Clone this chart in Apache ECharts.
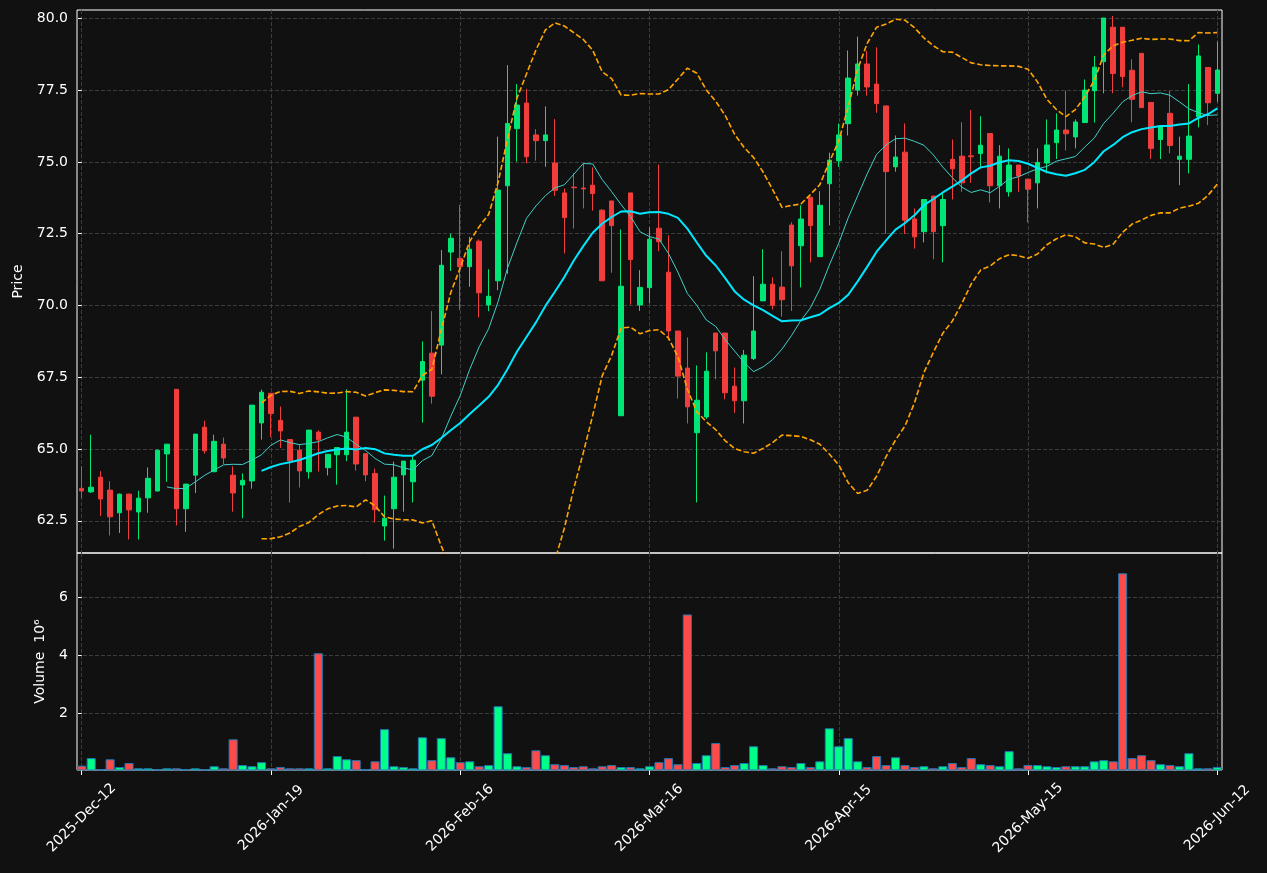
<!DOCTYPE html>
<html>
<head>
<meta charset="utf-8">
<title>Price and volume</title>
<script src="https://cdn.jsdelivr.net/npm/echarts@6/dist/echarts.min.js"></script>
<style>
    html, body { margin: 0; padding: 0; background: #111111; }
    #chart { width: 1267px; height: 873px; }
</style>
</head>
<body>
<div id="chart"></div>
<script>
// x tick labels, one every 20 sessions
const tickLabels = ['2025-Dec-12', '2026-Jan-19', '2026-Feb-16', '2026-Mar-16', '2026-Apr-15', '2026-May-15', '2026-Jun-12'];
const tickEvery = 20;

const opens = [
    63.63, 63.51, 64.02, 63.57, 62.78, 63.43, 62.81, 63.30, 63.54, 64.83,
    67.08, 62.92, 64.09, 65.76, 64.21, 65.17, 64.09, 63.75, 63.89, 65.91,
    66.94, 66.00, 65.33, 64.96, 64.21, 65.59, 64.35, 64.80, 64.80, 66.11,
    64.84, 64.15, 62.32, 62.92, 64.10, 63.86, 67.40, 68.34, 68.62, 71.86,
    71.64, 71.35, 72.24, 70.02, 70.86, 74.17, 76.16, 77.05, 75.94, 75.74,
    74.96, 73.92, 74.12, 74.09, 74.19, 73.32, 73.64, 66.16, 73.92, 70.02,
    70.62, 72.69, 71.16, 69.11, 67.82, 65.57, 66.12, 69.04, 69.04, 67.19,
    66.68, 68.15, 70.16, 70.74, 70.64, 72.80, 72.08, 73.77, 71.70, 74.24,
    75.04, 76.33, 77.50, 78.41, 77.71, 76.95, 74.83, 75.34, 73.01, 72.57,
    73.81, 72.78, 75.09, 75.20, 75.21, 75.29, 75.99, 74.17, 73.96, 74.89,
    74.40, 74.27, 74.96, 75.67, 76.11, 75.87, 76.37, 77.48, 78.49, 79.69,
    79.69, 78.19, 78.78, 77.07, 75.78, 76.69, 75.09, 75.09, 76.57, 78.29,
    77.39
];
const highs = [
    64.40, 65.50, 64.23, 63.88, 63.45, 63.45, 63.55, 64.36, 64.98, 65.17,
    67.08, 63.78, 65.52, 65.99, 65.50, 65.40, 64.40, 64.15, 66.53, 67.07,
    66.96, 66.48, 65.35, 65.17, 65.66, 65.65, 64.82, 65.05, 67.08, 66.11,
    64.84, 64.32, 63.38, 64.56, 64.58, 64.75, 68.75, 69.80, 71.93, 72.50,
    73.50, 72.39, 72.30, 71.26, 75.88, 78.37, 77.71, 77.54, 76.14, 76.93,
    76.49, 74.07, 74.61, 74.95, 74.81, 73.35, 73.64, 72.65, 73.92, 71.23,
    72.72, 74.91, 72.44, 69.11, 68.89, 67.91, 68.37, 69.04, 69.04, 67.84,
    68.45, 71.02, 71.96, 70.98, 71.89, 72.90, 73.49, 73.77, 73.98, 75.32,
    76.34, 78.88, 79.36, 78.87, 78.99, 76.95, 75.92, 76.34, 73.38, 73.69,
    73.81, 73.90, 75.78, 76.38, 76.81, 76.59, 75.99, 75.58, 75.47, 74.89,
    74.40, 75.47, 76.48, 76.69, 77.48, 76.48, 77.87, 78.69, 80.01, 80.08,
    79.69, 78.57, 78.78, 77.07, 76.23, 77.48, 75.88, 77.71, 79.09, 78.29,
    79.19
];
const lows = [
    63.28, 63.47, 62.67, 61.99, 62.08, 61.85, 61.85, 62.78, 63.52, 63.86,
    62.34, 62.12, 63.47, 64.84, 64.21, 64.48, 62.82, 62.59, 63.62, 65.33,
    65.42, 65.04, 63.14, 63.66, 63.97, 64.22, 64.08, 63.76, 64.58, 64.25,
    63.88, 62.44, 61.81, 61.53, 62.82, 63.14, 65.92, 66.58, 67.60, 71.20,
    69.84, 70.65, 69.58, 69.80, 70.53, 71.10, 75.01, 74.95, 75.04, 74.83,
    73.82, 71.81, 72.68, 73.38, 73.30, 70.86, 71.14, 66.16, 70.03, 69.81,
    70.07, 71.89, 68.79, 66.76, 65.89, 63.14, 66.05, 67.43, 66.73, 66.26,
    65.89, 68.10, 70.16, 69.86, 69.61, 69.81, 70.63, 71.50, 71.70, 72.79,
    74.83, 75.92, 77.31, 77.31, 76.71, 72.49, 74.66, 72.49, 71.98, 72.20,
    71.61, 71.50, 73.69, 73.96, 74.27, 74.83, 73.59, 73.38, 73.79, 73.96,
    72.89, 73.38, 74.60, 75.10, 75.40, 75.47, 76.37, 76.37, 77.39, 77.39,
    77.60, 76.38, 76.89, 75.10, 75.10, 75.30, 74.19, 74.60, 76.20, 76.28,
    77.09
];
const closes = [
    63.54, 63.67, 63.26, 62.64, 63.43, 62.88, 63.29, 63.98, 64.96, 65.17,
    62.92, 63.78, 65.52, 64.94, 65.27, 64.69, 63.47, 63.91, 66.53, 66.98,
    66.24, 65.63, 64.59, 64.24, 65.66, 65.32, 64.82, 65.05, 65.59, 64.48,
    64.10, 62.89, 62.59, 64.02, 64.58, 64.61, 68.05, 66.84, 71.40, 72.34,
    71.35, 71.96, 70.44, 70.32, 74.02, 76.34, 76.98, 75.18, 75.74, 75.94,
    74.01, 73.06, 74.10, 74.06, 73.90, 70.86, 72.78, 70.67, 71.60, 70.63,
    72.31, 72.22, 69.11, 67.54, 66.47, 66.70, 67.71, 68.42, 66.96, 66.68,
    68.27, 69.11, 70.74, 70.01, 70.20, 71.38, 73.01, 72.78, 73.49, 75.06,
    75.94, 77.92, 78.41, 77.61, 77.03, 74.66, 75.17, 72.97, 72.39, 73.69,
    72.57, 73.69, 74.76, 74.27, 75.18, 75.58, 74.17, 75.20, 74.89, 74.51,
    74.05, 74.98, 75.59, 76.11, 75.98, 76.39, 77.50, 78.30, 80.01, 78.08,
    77.97, 77.18, 76.89, 75.47, 76.23, 75.57, 75.20, 75.90, 78.69, 77.06,
    78.20
];
// volume in millions
const volumes = [
    0.19, 0.45, 0.07, 0.41, 0.14, 0.28, 0.10, 0.10, 0.07, 0.10,
    0.10, 0.07, 0.10, 0.07, 0.17, 0.10, 1.10, 0.21, 0.17, 0.31,
    0.10, 0.14, 0.10, 0.10, 0.10, 4.07, 0.10, 0.52, 0.41, 0.38,
    0.07, 0.34, 1.45, 0.17, 0.14, 0.10, 1.17, 0.38, 1.14, 0.48,
    0.31, 0.34, 0.17, 0.21, 2.24, 0.62, 0.17, 0.14, 0.72, 0.55,
    0.24, 0.21, 0.14, 0.17, 0.10, 0.17, 0.21, 0.14, 0.14, 0.10,
    0.17, 0.31, 0.45, 0.24, 5.41, 0.28, 0.55, 0.97, 0.14, 0.21,
    0.28, 0.86, 0.21, 0.10, 0.17, 0.14, 0.28, 0.14, 0.34, 1.48,
    0.86, 1.14, 0.34, 0.14, 0.52, 0.21, 0.48, 0.21, 0.14, 0.17,
    0.10, 0.17, 0.28, 0.14, 0.45, 0.24, 0.21, 0.17, 0.69, 0.10,
    0.21, 0.21, 0.17, 0.14, 0.17, 0.17, 0.17, 0.34, 0.38, 0.34,
    6.83, 0.45, 0.55, 0.38, 0.24, 0.21, 0.17, 0.62, 0.10, 0.10,
    0.14
];
const priceTicks = [62.5, 65.0, 67.5, 70.0, 72.5, 75.0, 77.5, 80.0];
const volumeTicks = [2, 4, 6];

const UP = '#00e676', DOWN = '#f23d3d';
const VOL_UP = '#00ff88', VOL_DOWN = '#ff4a4a';
const gridLine = { show: true, lineStyle: { color: '#3d3d3d', type: [4, 2], width: 1 } };

const idx = closes.map((_, i) => String(i));
const xTicks = tickLabels.map((_, i) => i * tickEvery);

function rollingMean(arr, n) {
    return arr.map((_, i) => {
        if (i < n - 1) return null;
        let s = 0;
        for (let k = i - n + 1; k <= i; k++) s += arr[k];
        return s / n;
    });
}
function rollingStd(arr, n) {
    const m = rollingMean(arr, n);
    return arr.map((_, i) => {
        if (i < n - 1) return null;
        let s = 0;
        for (let k = i - n + 1; k <= i; k++) s += (arr[k] - m[i]) ** 2;
        return Math.sqrt(s / n);
    });
}

const ma10 = rollingMean(closes, 10);
const ma20 = rollingMean(closes, 20);
const sd20 = rollingStd(closes, 20);
const bbUpper = ma20.map((m, i) => m === null ? null : m + 2 * sd20[i]);
const bbLower = ma20.map((m, i) => m === null ? null : m - 2 * sd20[i]);

const ohlc = closes.map((c, i) => [opens[i], c, lows[i], highs[i]]);
const volData = volumes.map((v, i) => ({
    value: v,
    itemStyle: { color: closes[i] >= opens[i] ? VOL_UP : VOL_DOWN }
}));

const chart = echarts.init(document.getElementById('chart'));
const option = {
    backgroundColor: '#111111',
    animation: false,
    textStyle: { fontFamily: 'DejaVu Sans' },
    grid: [
        { left: 77, right: 45, top: 10, height: 543, show: true, backgroundColor: '#111111', borderColor: '#ffffff', borderWidth: 1 },
        { left: 77, right: 45, top: 553, height: 217, show: true, backgroundColor: 'transparent', borderColor: '#ffffff', borderWidth: 1 }
    ],
    xAxis: [
        { type: 'category', gridIndex: 0, data: idx, show: false, position: 'top' },
        { type: 'category', gridIndex: 1, data: idx, show: false, position: 'top' },
        {
            type: 'value', gridIndex: 0, position: 'bottom', min: -0.5, max: closes.length - 0.5,
            axisLine: { show: false },
            axisTick: { show: false, customValues: xTicks },
            axisLabel: { show: false, customValues: xTicks },
            splitLine: gridLine
        },
        {
            type: 'value', gridIndex: 1, position: 'bottom', min: -0.5, max: closes.length - 0.5,
            axisLine: { show: false },
            axisTick: { show: true, customValues: xTicks, length: 5, lineStyle: { color: '#ffffff' } },
            axisLabel: {
                customValues: xTicks,
                formatter: v => tickLabels[Math.round(v / tickEvery)],
                rotate: 45, align: 'center', verticalAlign: 'middle', margin: 48,
                color: '#ffffff', fontSize: 14
            },
            splitLine: gridLine
        }
    ],
    yAxis: [
        {
            type: 'value', gridIndex: 0, min: 61.38, max: 80.29,
            axisLine: { show: false },
            axisTick: { show: true, customValues: priceTicks, length: 4, lineStyle: { color: '#ffffff' } },
            axisLabel: { customValues: priceTicks, formatter: v => v.toFixed(1), color: '#ffffff', fontSize: 14, margin: 9 },
            splitLine: gridLine,
            name: 'Price', nameLocation: 'middle', nameRotate: 90, nameGap: 52,
            nameTextStyle: { color: '#ffffff', fontSize: 14 }
        },
        {
            type: 'value', gridIndex: 1, min: 0.04, max: 7.53,
            axisLine: { show: false },
            axisTick: { show: true, customValues: volumeTicks, length: 4, lineStyle: { color: '#ffffff' } },
            axisLabel: { customValues: volumeTicks, formatter: v => String(v), color: '#ffffff', fontSize: 14, margin: 9 },
            splitLine: gridLine,
            name: 'Volume  10\u2076', nameLocation: 'middle', nameRotate: 90, nameGap: 30,
            nameTextStyle: { color: '#ffffff', fontSize: 14 }
        }
    ],
    series: [
        {
            type: 'candlestick', xAxisIndex: 0, yAxisIndex: 0, data: ohlc, barWidth: 5,
            itemStyle: { color: UP, color0: DOWN, borderColor: UP, borderColor0: DOWN, borderWidth: 1 }
        },
        {
            type: 'line', name: 'MA10', xAxisIndex: 0, yAxisIndex: 0, data: ma10,
            symbol: 'none', lineStyle: { color: '#40d0c8', width: 1 }
        },
        {
            type: 'line', name: 'MA20', xAxisIndex: 0, yAxisIndex: 0, data: ma20,
            symbol: 'none', lineStyle: { color: '#00e8ff', width: 2 }
        },
        {
            type: 'line', name: 'BB upper', xAxisIndex: 0, yAxisIndex: 0, data: bbUpper,
            symbol: 'none', lineStyle: { color: '#ffa500', width: 1.6, type: [5.5, 2.5] }
        },
        {
            type: 'line', name: 'BB lower', xAxisIndex: 0, yAxisIndex: 0, data: bbLower,
            symbol: 'none', lineStyle: { color: '#ffa500', width: 1.6, type: [5.5, 2.5] }
        },
        {
            type: 'bar', name: 'Volume', xAxisIndex: 1, yAxisIndex: 1, data: volData,
            barWidth: '96%', clip: true,
            itemStyle: { borderColor: '#1f77b4', borderWidth: 1 }
        }
    ]
};
chart.setOption(option);
</script>
</body>
</html>
